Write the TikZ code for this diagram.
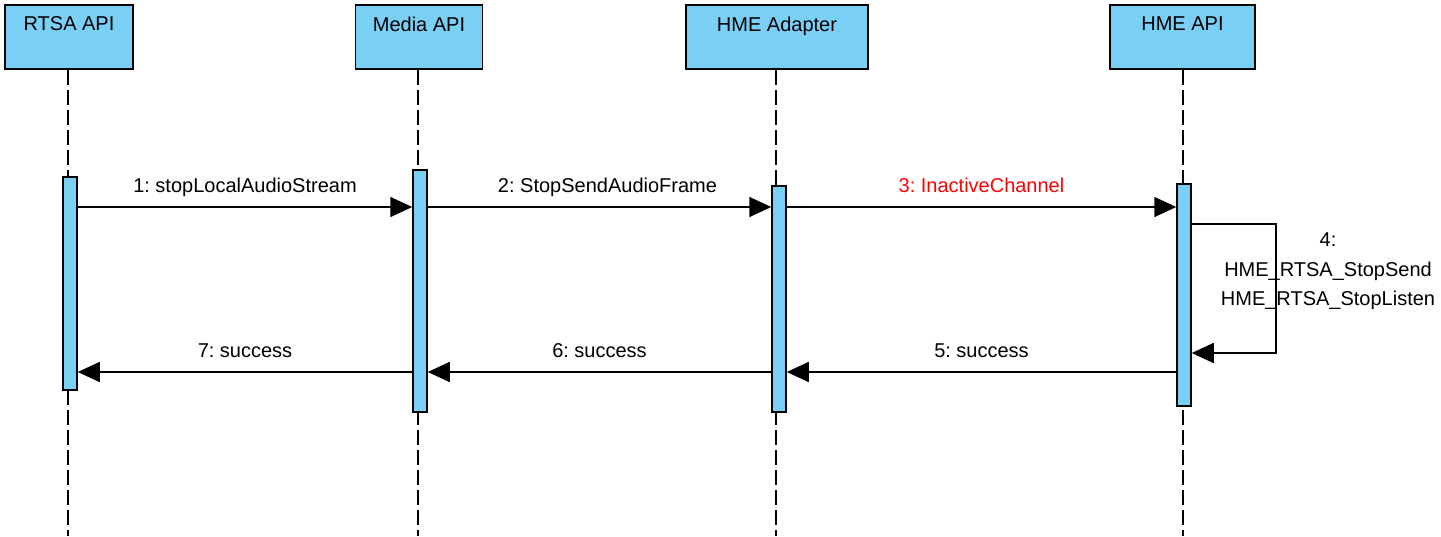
\documentclass[tikz,border=0pt]{standalone}
\usepackage{fontspec}
\setmainfont{Liberation Sans}
\usetikzlibrary{arrows.meta}
\definecolor{boxblue}{RGB}{122, 207, 245}
\frenchspacing

\begin{document}
\begin{tikzpicture}[
  x = 1pt,
  y = -1pt,
  every node/.style = {
    font = \fontsize{20}{24}\selectfont
  },
  actor/.style = {
    shape = rectangle,
    draw = black,
    fill = boxblue,
    line width = 1.5pt,
    minimum height = 64pt,
    inner sep = 0pt,
  },
  bar/.style = {
    shape = rectangle,
    draw = black,
    fill = boxblue,
    line width = 1.5pt,
    minimum width = 14pt,
    inner sep = 0pt,
  },
  life/.style = {
    line width = 2pt,
    dash pattern = on 15pt off 5pt
  },
  msg/.style = {
    line width = 1.6pt,
    -{Triangle[length = 22pt, width = 20pt]}
  },
  lbl/.style = {
    midway,
    anchor = base,
    yshift = 15pt
  }
]
  \useasboundingbox (0, 0) rectangle (1441, 536);

  \draw node[actor, minimum width = 128pt,
    label = {[anchor = north, yshift = -9pt]north:RTSA API}] (rtsa) at (69, 37) {};
  \draw node[actor, minimum width = 127pt,
    label = {[anchor = north, yshift = -9pt]north:Media API}] (media) at (419, 37) {};
  \draw node[actor, minimum width = 182pt,
    label = {[anchor = north, yshift = -9pt]north:HME Adapter}] (adapter) at (777, 37) {};
  \draw node[actor, minimum width = 145pt,
    label = {[anchor = north, yshift = -9pt]north:HME API}] (hmeapi) at (1182.5, 37) {};

  \coordinate (rtsaEnd) at (68, 536);
  \coordinate (mediaEnd) at (418, 536);
  \coordinate (adapterEnd) at (776, 536);
  \coordinate (hmeapiEnd) at (1183, 536);

  \draw[life] (rtsa.south -| rtsaEnd) -- (rtsaEnd);
  \draw[life] (media.south -| mediaEnd) -- (mediaEnd);
  \draw[life] (adapter.south -| adapterEnd) -- (adapterEnd);
  \draw[life] (hmeapi.south -| hmeapiEnd) -- (hmeapiEnd);

  \draw node[bar, minimum height = 213pt] (B1) at (70, 283.5) {};
  \draw node[bar, minimum height = 242pt] (B2) at (420, 291) {};
  \draw node[bar, minimum height = 226pt] (B3) at (779, 299) {};
  \draw node[bar, minimum height = 222pt] (B4) at (1184, 295) {};

  \draw[msg] (B1.east |- 0, 207) -- (B2.west |- 0, 207)
    node[lbl] {1: stopLocalAudioStream};
  \draw[msg] (B2.east |- 0, 207) -- (B3.west |- 0, 207)
    node[lbl, xshift = 8pt] {2: StopSendAudioFrame};
  \draw[msg] (B3.east |- 0, 207) -- (B4.west |- 0, 207)
    node[lbl, text = red] {3: InactiveChannel};

  \coordinate (loop) at (1276, 353);
  \draw[msg] (B4.east |- 0, 224) -| (loop) -- (B4.east |- loop);
  \draw node[align = center, anchor = north, inner sep = 0pt,
    font = \fontsize{20}{29.5}\selectfont] (selfmsg) at (1328, 233)
    {4:\\HME\_RTSA\_StopSend\\HME\_RTSA\_StopListen};

  \draw[msg] (B4.west |- 0, 372) -- (B3.east |- 0, 372)
    node[lbl] {5: success};
  \draw[msg] (B3.west |- 0, 372) -- (B2.east |- 0, 372)
    node[lbl] {6: success};
  \draw[msg] (B2.west |- 0, 372) -- (B1.east |- 0, 372)
    node[lbl] {7: success};
\end{tikzpicture}
\end{document}
